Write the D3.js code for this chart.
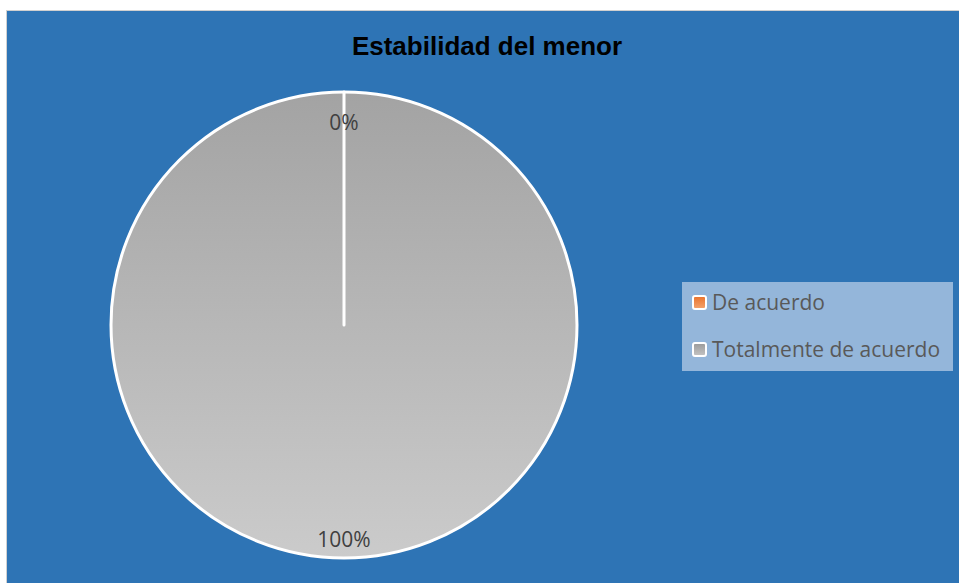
<!DOCTYPE html>
<html lang="es">
<head>
<meta charset="UTF-8">
<title>Estabilidad del menor</title>
<script src="https://d3js.org/d3.v7.min.js"></script>
<style>
  body { margin: 0; background: #fff; }
  svg { display: block; }
</style>
</head>
<body>
<svg id="chart" width="959" height="583"></svg>
<script>
  // datos
  const title = "Estabilidad del menor";
  const categories = ["De acuerdo", "Totalmente de acuerdo"];
  const values = [0, 100];
  const labels = ["0%", "100%"];

  const width = 959, height = 583;
  const svg = d3.select("#chart");

  const defs = svg.append("defs");
  const grey = defs.append("linearGradient").attr("id", "grey")
    .attr("x1", 0).attr("y1", 0).attr("x2", 0).attr("y2", 1);
  grey.append("stop").attr("offset", "0%").attr("stop-color", "#a3a3a3");
  grey.append("stop").attr("offset", "100%").attr("stop-color", "#cbcbcb");
  const orange = defs.append("linearGradient").attr("id", "orange")
    .attr("x1", 0).attr("y1", 0).attr("x2", 0).attr("y2", 1);
  orange.append("stop").attr("offset", "0%").attr("stop-color", "#e9712a");
  orange.append("stop").attr("offset", "100%").attr("stop-color", "#f4a46e");
  const greySw = defs.append("linearGradient").attr("id", "greySw")
    .attr("x1", 0).attr("y1", 0).attr("x2", 0).attr("y2", 1);
  greySw.append("stop").attr("offset", "0%").attr("stop-color", "#9a9a9a");
  greySw.append("stop").attr("offset", "100%").attr("stop-color", "#c4c4c4");

  const fills = d3.scaleOrdinal().domain(categories).range(["url(#orange)", "url(#grey)"]);
  const swatch = d3.scaleOrdinal().domain(categories).range(["url(#orange)", "url(#greySw)"]);

  // fondo
  svg.append("rect")
    .attr("x", 6).attr("y", 10)
    .attr("width", width - 6).attr("height", height - 10)
    .attr("fill", "#d0d0d0");
  svg.append("rect")
    .attr("x", 7).attr("y", 11)
    .attr("width", width - 7).attr("height", height - 11)
    .attr("fill", "#2e74b5");

  svg.append("text")
    .attr("x", 487).attr("y", 55)
    .attr("text-anchor", "middle")
    .attr("font-family", "Liberation Sans, Arial, sans-serif")
    .attr("font-weight", "bold")
    .attr("font-size", 26)
    .attr("fill", "#000")
    .text(title);

  // pastel
  const cx = 344, cy = 325, r = 233;
  const pie = d3.pie().sort(null).value(d => d.value);
  const arcs = pie(categories.map((c, i) => ({ cat: c, value: values[i], label: labels[i] })));
  const arc = d3.arc().innerRadius(0).outerRadius(r);

  const g = svg.append("g").attr("transform", `translate(${cx},${cy})`);
  g.selectAll("path.slice")
    .data(arcs.slice().reverse())
    .join("path")
    .attr("class", "slice")
    .attr("d", arc)
    .attr("fill", d => fills(d.data.cat))
    .attr("stroke", "#fff")
    .attr("stroke-width", 3)
    .attr("stroke-linejoin", "round");

  // etiquetas
  const labelPos = d => {
    const a = (d.startAngle + d.endAngle) / 2;
    const rr = d.data.value === 0 ? r * 0.87 : r * 0.92;
    return [Math.sin(a) * rr, -Math.cos(a) * rr];
  };
  g.selectAll("text.lbl")
    .data(arcs)
    .join("text")
    .attr("class", "lbl")
    .attr("x", d => labelPos(d)[0])
    .attr("y", d => labelPos(d)[1])
    .attr("dy", "0.35em")
    .attr("text-anchor", "middle")
    .attr("font-family", "Open Sans, Liberation Sans, sans-serif")
    .attr("font-size", 21)
    .attr("fill", "#404040")
    .text(d => d.data.label);

  // leyenda
  const leg = svg.append("g").attr("transform", "translate(682,282)");
  leg.append("rect")
    .attr("width", 271).attr("height", 89)
    .attr("fill", "#94b6da");
  const item = leg.selectAll("g.item")
    .data(categories)
    .join("g")
    .attr("class", "item")
    .attr("transform", (d, i) => `translate(11,${21 + i * 47})`);
  item.append("rect")
    .attr("x", 0).attr("y", -7)
    .attr("width", 13).attr("height", 13)
    .attr("rx", 2)
    .attr("fill", d => swatch(d))
    .attr("stroke", "#fff")
    .attr("stroke-width", 2);
  item.append("text")
    .attr("x", 19).attr("y", 0)
    .attr("dy", "0.35em")
    .attr("font-family", "Open Sans, Liberation Sans, sans-serif")
    .attr("font-size", 21)
    .attr("fill", "#595959")
    .text(d => d);
</script>
</body>
</html>
